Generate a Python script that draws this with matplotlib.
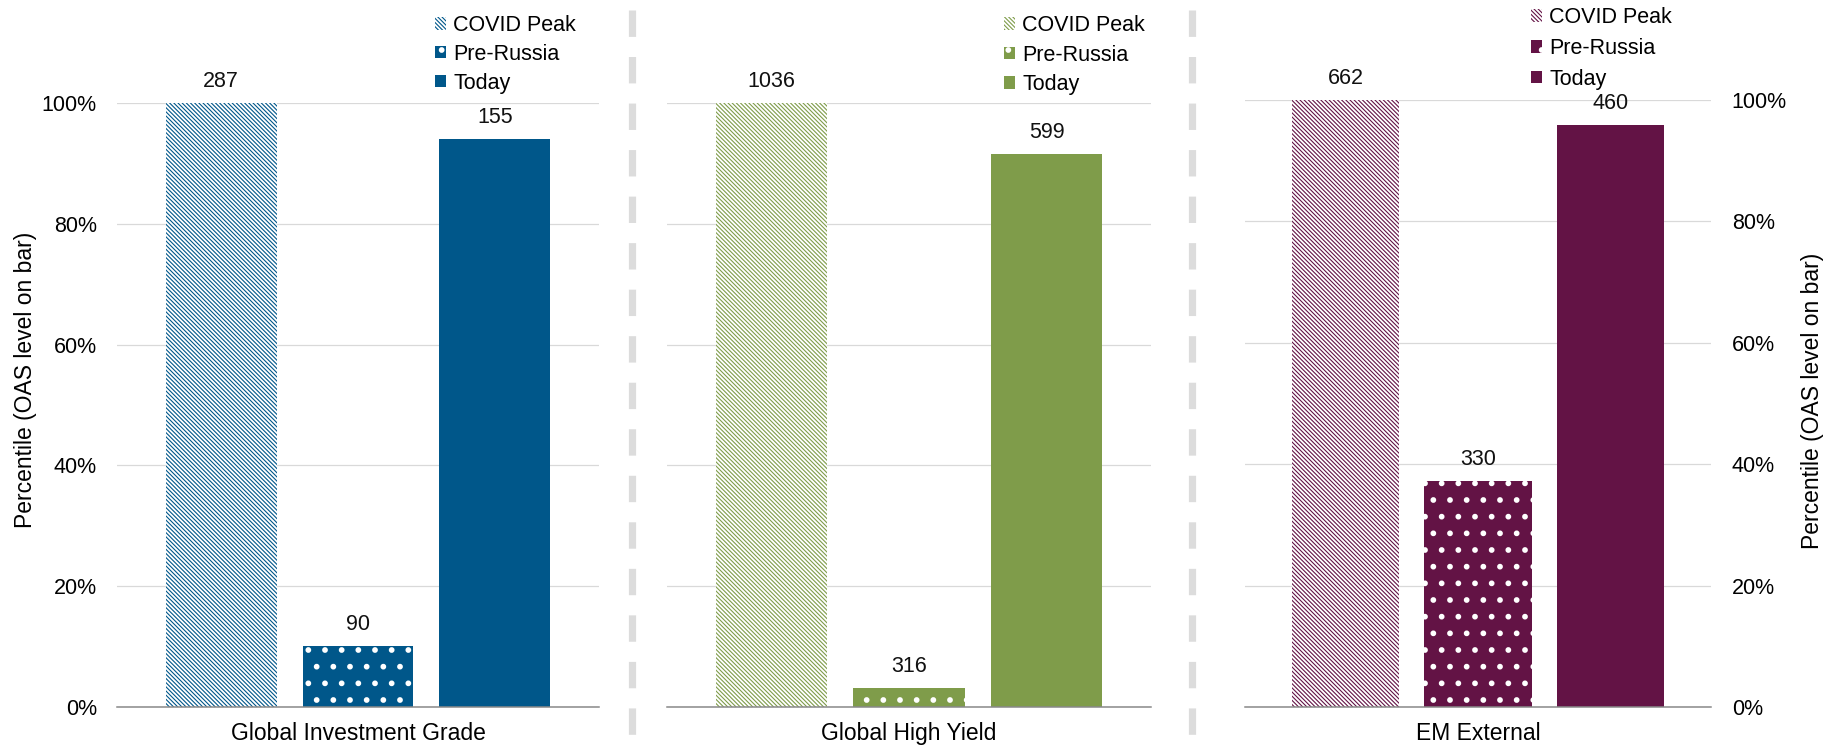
import matplotlib
matplotlib.use("Agg")
import matplotlib.pyplot as plt
from matplotlib.lines import Line2D
from matplotlib.ticker import PercentFormatter

plt.rcParams['font.family'] = ['Liberation Sans', 'DejaVu Sans']
plt.rcParams['hatch.linewidth'] = 0.8
plt.rcParams['lines.scale_dashes'] = False

# Data: percentile rank of spreads and the OAS level (bp) printed on each bar
series = ["COVID Peak", "Pre-Russia", "Today"]
sectors = ["Global Investment Grade", "Global High Yield", "EM External"]
percentile_ig = [100.0, 10.1, 94.0]
percentile_hy = [100.0, 3.2, 91.6]
percentile_em = [100.0, 37.2, 95.9]
oas_ig = [287, 90, 155]
oas_hy = [1036, 316, 599]
oas_em = [662, 330, 460]
sector_colors = ["#00578A", "#7F9C4A", "#631345"]
yticks = [0, 20, 40, 60, 80, 100]

W, H = 1835, 750
FS = 15.5      # ticks, legend, bar labels
FS_AX = 16.5   # axis titles
fig = plt.figure(figsize=(W / 100, H / 100), dpi=100)

def px_box(left, right, top, bottom):
    return [left / W, 1 - bottom / H, (right - left) / W, (bottom - top) / H]

panels = [
    dict(name=sectors[0], pct=percentile_ig, oas=oas_ig, color=sector_colors[0],
         box=px_box(117, 599, 103, 707), leg=(435, 15, 0.36), ticks="left"),
    dict(name=sectors[1], pct=percentile_hy, oas=oas_hy, color=sector_colors[1],
         box=px_box(667, 1151, 103, 707), leg=(1004, 15, 0.40), ticks=None),
    dict(name=sectors[2], pct=percentile_em, oas=oas_em, color=sector_colors[2],
         box=px_box(1245, 1711, 100, 707), leg=(1531, 7, 0.46), ticks="right"),
]

offsets = [-1, 0, 1]
bar_w = 0.81
diag_hatch = "\\" * 8
dot_hatch = "."

for p in panels:
    ax = fig.add_axes(p["box"])
    ax.set_axisbelow(True)
    c = p["color"]
    for i, (off, val, lvl) in enumerate(zip(offsets, p["pct"], p["oas"])):
        if i == 0:
            ax.bar(off, val, width=bar_w, facecolor="white", edgecolor=c,
                   linewidth=0, hatch=diag_hatch, label=series[i], zorder=2)
        elif i == 1:
            bars = ax.bar(off, val, width=bar_w, facecolor=c, edgecolor="white",
                          linewidth=0, hatch=dot_hatch, label=series[i], zorder=2)
            for r in bars:
                if hasattr(r, "set_hatch_linewidth"):
                    r.set_hatch_linewidth(1.7)
        else:
            ax.bar(off, val, width=bar_w, facecolor=c, linewidth=0,
                   label=series[i], zorder=2)
        ax.annotate(f"{lvl}", (off, val), xytext=(0, 8), textcoords="offset points",
                    ha="center", va="bottom", fontsize=FS, color="#111111")

    ax.set_xlim(-1.76, 1.76)
    ax.set_ylim(0, 100)
    ax.set_xticks([0])
    ax.set_xticklabels([p["name"]], fontsize=FS_AX)
    ax.tick_params(axis="x", length=0, pad=11)
    ax.set_yticks(yticks)
    ax.yaxis.set_major_formatter(PercentFormatter(decimals=0))
    ax.grid(axis="y", color="#D9D9D9", linewidth=0.9)
    for s in ["top", "left", "right"]:
        ax.spines[s].set_visible(False)
    ax.spines["bottom"].set_color("#898989")
    ax.spines["bottom"].set_linewidth(1.1)

    if p["ticks"] == "left":
        ax.tick_params(axis="y", length=0, pad=14.5, labelsize=FS)
    elif p["ticks"] == "right":
        ax.yaxis.tick_right()
        ax.tick_params(axis="y", length=0, pad=15, labelsize=FS,
                       labelleft=False, labelright=True)
    else:
        ax.tick_params(axis="y", length=0, labelleft=False)

    lx, ltop, lsp = p["leg"]
    leg = ax.legend(loc="upper left", bbox_to_anchor=(lx / W, 1 - ltop / H),
                    bbox_transform=fig.transFigure, frameon=False, fontsize=FS,
                    borderpad=0, borderaxespad=0, handlelength=0.52,
                    handleheight=0.52, handletextpad=0.32, labelspacing=lsp)
    for h in leg.legend_handles:
        if h.get_hatch() == dot_hatch and hasattr(h, "set_hatch_linewidth"):
            h.set_hatch_linewidth(1.7)

# axis titles on the outer sides
fig.text(26 / W, 1 - 380 / H, "Percentile (OAS level on bar)", rotation=90,
         ha="center", va="center", fontsize=FS_AX)
fig.text(1812 / W, 1 - 401 / H, "Percentile (OAS level on bar)", rotation=90,
         ha="center", va="center", fontsize=FS_AX)

# dashed separators between the panels
for xs in (632, 1192):
    fig.add_artist(Line2D([xs / W, xs / W], [1 - 10 / H, 1 - 735 / H],
                          transform=fig.transFigure, color="#DCDCDC",
                          linewidth=5.2, dashes=(19, 14.5), solid_capstyle="butt",
                          dash_capstyle="butt"))

fig.savefig("out.png", dpi=100)
